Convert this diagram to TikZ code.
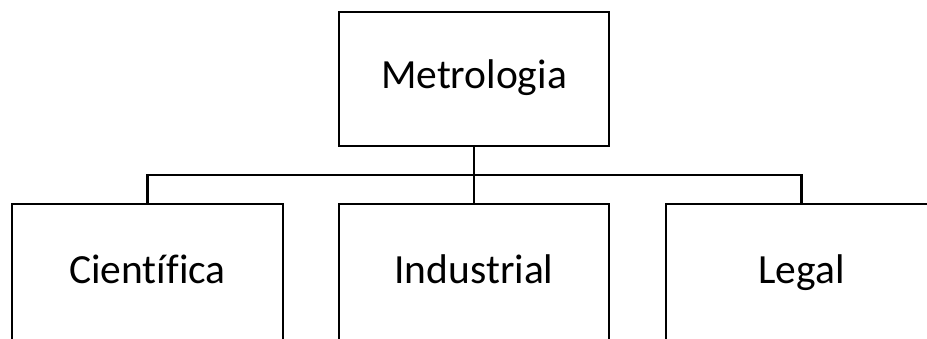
\documentclass[tikz,border=0pt]{standalone}
\usepackage{fontspec}
\setmainfont{Carlito}[Ligatures=CommonOff]
\begin{document}
\begin{tikzpicture}[x=1pt,y=-1pt,
  box/.style={draw=black,line width=2.2pt,fill=white,minimum width=270pt,inner sep=0pt,
    text height=27pt,text depth=8pt,font=\fontsize{41.5}{50}\selectfont},
  topbox/.style={box,minimum height=134pt},
  leafbox/.style={box,minimum height=140pt},
  link/.style={draw=black,line width=2.2pt}]
  \useasboundingbox (0,0) rectangle (927,338);
  \clip (0,0) rectangle (927,338);
  \node[topbox] (top) at (474,79) {Metrologia};
  \node[leafbox,minimum width=271pt] (cien) at (147.5,274) {Científica};
  \node[leafbox] (ind) at (474,274) {Industrial};
  \node[leafbox,minimum width=271pt] (leg) at (801.5,274) {Legal};
  \coordinate (bus) at (474,175);
  \draw[link] (top.south) -- (bus);
  \draw[link] (bus) -| (cien.north);
  \draw[link] (bus) -| (leg.north);
  \draw[link] (bus) -- (ind.north);
\end{tikzpicture}
\end{document}
